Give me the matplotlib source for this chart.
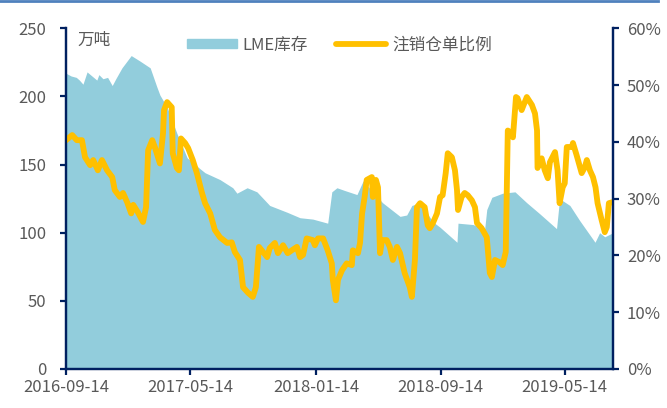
import pandas as pd
import matplotlib.pyplot as plt
import matplotlib.dates as mdates
from matplotlib.lines import Line2D
from matplotlib.patches import Patch
from matplotlib.ticker import FuncFormatter

plt.rcParams['font.family'] = ['Noto Sans CJK SC', 'DejaVu Sans']

# LME inventory (10k tonnes)
stock_dates = ["2016-09-14", "2016-09-24", "2016-10-04", "2016-10-10", "2016-10-17", "2016-10-25",
               "2016-11-13", "2016-11-17", "2016-11-25", "2016-12-04", "2016-12-13", "2016-12-20",
               "2017-01-01", "2017-01-19", "2017-02-05", "2017-02-25", "2017-03-10", "2017-03-16",
               "2017-03-30", "2017-04-18", "2017-05-08", "2017-06-02", "2017-06-12", "2017-07-11",
               "2017-08-05", "2017-08-13", "2017-09-02", "2017-09-21", "2017-10-16", "2017-11-19",
               "2017-12-14", "2018-01-08", "2018-02-06", "2018-02-14", "2018-02-24", "2018-03-11",
               "2018-04-04", "2018-04-16", "2018-05-24", "2018-06-27", "2018-07-10", "2018-07-20",
               "2018-08-05", "2018-08-30", "2018-09-13", "2018-10-16", "2018-10-18", "2018-11-16",
               "2018-12-09", "2018-12-13", "2018-12-23", "2019-01-13", "2019-02-06", "2019-03-01",
               "2019-03-26", "2019-04-28", "2019-05-04", "2019-05-24", "2019-06-12", "2019-07-12",
               "2019-07-21", "2019-07-31", "2019-08-16"]
stock = [217, 215, 214, 212, 209, 218,
         212, 216, 213, 214, 208, 213,
         221, 230, 226, 221, 207, 201,
         192, 173, 155, 147, 144, 139,
         133, 129, 133, 130, 120, 115,
         111, 110, 107, 130, 133, 131,
         128, 138, 122, 112, 113, 120,
         122, 108, 104, 93, 107, 106,
         103, 117, 126, 129, 130, 122,
         114, 103, 125, 120, 109, 93,
         100, 97, 100]

# cancelled warrants ratio (%)
ratio_dates = ["2016-09-14", "2016-09-26", "2016-10-05", "2016-10-15", "2016-10-21", "2016-10-31",
               "2016-11-06", "2016-11-15", "2016-11-23", "2016-12-03", "2016-12-13", "2016-12-18",
               "2016-12-28", "2017-01-03", "2017-01-11", "2017-01-19", "2017-01-23", "2017-02-01",
               "2017-02-11", "2017-02-17", "2017-02-21", "2017-03-01", "2017-03-06", "2017-03-16",
               "2017-03-22", "2017-03-24", "2017-03-30", "2017-04-08", "2017-04-10", "2017-04-18",
               "2017-04-22", "2017-04-26", "2017-05-04", "2017-05-10", "2017-05-19", "2017-05-27",
               "2017-06-06", "2017-06-12", "2017-06-22", "2017-07-01", "2017-07-11", "2017-07-25",
               "2017-08-03", "2017-08-09", "2017-08-19", "2017-08-25", "2017-09-04", "2017-09-13",
               "2017-09-19", "2017-09-25", "2017-10-03", "2017-10-11", "2017-10-16", "2017-10-26",
               "2017-11-01", "2017-11-11", "2017-11-20", "2017-11-28", "2017-12-08", "2017-12-14",
               "2017-12-20", "2017-12-27", "2018-01-08", "2018-01-12", "2018-01-18", "2018-01-28",
               "2018-02-06", "2018-02-14", "2018-02-16", "2018-02-22", "2018-02-26", "2018-03-06",
               "2018-03-15", "2018-03-25", "2018-03-27", "2018-04-06", "2018-04-10", "2018-04-14",
               "2018-04-19", "2018-04-23", "2018-05-03", "2018-05-05", "2018-05-11", "2018-05-15",
               "2018-05-19", "2018-05-23", "2018-06-01", "2018-06-07", "2018-06-13", "2018-06-21",
               "2018-06-27", "2018-07-06", "2018-07-16", "2018-07-20", "2018-07-26", "2018-07-30",
               "2018-08-05", "2018-08-14", "2018-08-20", "2018-08-24", "2018-08-30", "2018-09-07",
               "2018-09-13", "2018-09-18", "2018-09-24", "2018-09-28", "2018-10-06", "2018-10-12",
               "2018-10-16", "2018-10-18", "2018-10-25", "2018-10-31", "2018-11-06", "2018-11-14",
               "2018-11-20", "2018-11-24", "2018-12-03", "2018-12-13", "2018-12-19", "2018-12-23",
               "2018-12-29", "2019-01-07", "2019-01-13", "2019-01-19", "2019-01-23", "2019-01-31",
               "2019-02-02", "2019-02-08", "2019-02-11", "2019-02-19", "2019-03-01", "2019-03-11",
               "2019-03-17", "2019-03-21", "2019-03-22", "2019-03-30", "2019-04-05", "2019-04-11",
               "2019-04-15", "2019-04-25", "2019-04-30", "2019-05-04", "2019-05-10", "2019-05-14",
               "2019-05-18", "2019-05-28", "2019-05-30", "2019-06-06", "2019-06-10", "2019-06-16",
               "2019-06-22", "2019-06-26", "2019-07-02", "2019-07-08", "2019-07-13", "2019-07-17",
               "2019-07-25", "2019-07-31", "2019-08-04", "2019-08-08", "2019-08-16"]
ratio = [40.3, 41.2, 40.3, 40.3, 37.3, 35.9,
         36.8, 35.0, 36.8, 35.0, 33.8, 31.5,
         30.3, 31.0, 29.4, 27.4, 28.9, 27.6,
         25.9, 28.5, 38.5, 40.3, 39.1, 36.2,
         41.5, 45.6, 47.0, 46.1, 38.0, 35.4,
         35.0, 40.6, 39.8, 38.9, 36.8, 34.5,
         31.0, 29.2, 27.4, 24.5, 23.2, 22.2,
         22.3, 20.6, 19.2, 14.4, 13.4, 12.7,
         14.4, 21.5, 20.6, 19.7, 21.3, 22.2,
         20.4, 21.8, 20.4, 20.9, 21.5, 19.7,
         20.1, 23.0, 22.7, 21.8, 23.0, 23.0,
         20.9, 18.6, 15.7, 12.1, 15.7, 17.4,
         18.6, 18.3, 20.9, 20.4, 22.2, 27.4,
         30.3, 33.3, 33.8, 30.3, 33.3, 32.0,
         20.4, 22.7, 22.7, 21.5, 19.2, 21.5,
         20.4, 16.9, 14.4, 12.7, 19.2, 28.5,
         29.2, 28.5, 25.3, 24.8, 25.7, 27.4,
         30.3, 30.6, 34.5, 38.0, 37.3, 35.0,
         31.5, 28.0, 30.3, 31.0, 30.6, 29.7,
         28.5, 25.7, 24.8, 23.2, 16.9, 16.2,
         19.2, 18.8, 18.3, 20.6, 42.0, 41.5,
         40.8, 47.9, 47.7, 45.6, 47.9, 46.5,
         45.0, 42.0, 35.4, 37.1, 35.0, 33.6,
         36.4, 38.2, 35.0, 29.2, 32.0, 32.7,
         39.1, 39.1, 39.8, 37.7, 36.4, 34.5,
         35.5, 36.8, 35.0, 33.8, 32.0, 29.2,
         26.2, 24.1, 25.0, 29.2, 29.4]

tick_dates = ["2016-09-14", "2017-05-14", "2018-01-14", "2018-09-14", "2019-05-14"]

navy = '#002060'
grey = '#595959'
fs = 12

sd = pd.to_datetime(stock_dates)
rd = pd.to_datetime(ratio_dates)

fig = plt.figure(figsize=(6.67, 4.08), dpi=100)
ax = fig.add_axes([0.099, 0.0956, 0.82, 0.835])
ax2 = ax.twinx()

ax.fill_between(sd, stock, 0, color='#92CDDC', linewidth=0)
ax2.plot(rd, ratio, color='#FFC000', linewidth=4.2, solid_joinstyle='round')

ax.set_ylim(0, 250)
ax.set_yticks(range(0, 251, 50))
ax2.set_ylim(0, 60)
ax2.set_yticks(range(0, 61, 10))
ax2.yaxis.set_major_formatter(FuncFormatter(lambda v, p: f'{v:.0f}%'))

ax.set_xlim(sd[0], sd[-1])
ax.set_xticks(pd.to_datetime(tick_dates))
ax.xaxis.set_major_formatter(mdates.DateFormatter('%Y-%m-%d'))

for a in (ax, ax2):
    a.spines['top'].set_visible(False)
    for s in ('left', 'right', 'bottom'):
        a.spines[s].set_color(navy)
        a.spines[s].set_linewidth(1.6)
    a.tick_params(colors=navy, labelcolor=grey, labelsize=fs, width=1.6, length=4)
ax.tick_params(axis='x', pad=3)
ax.tick_params(axis='y', pad=10)
ax2.tick_params(axis='y', pad=6)

ax.text(0.02, 0.99, '万吨', transform=ax.transAxes, ha='left', va='top',
        fontsize=fs, color=grey)

handles = [Patch(color='#92CDDC'), Line2D([], [], color='#FFC000', linewidth=4.2, solid_capstyle='round')]
ax.legend(handles, ['LME库存', '注销仓单比例'], loc='upper center', bbox_to_anchor=(0.5, 1.02),
          ncol=2, frameon=False, fontsize=fs, labelcolor=grey, handlelength=3.0,
          handletextpad=0.35, columnspacing=1.7, handleheight=0.5)

# thin blue rule across the top
fig.add_artist(Line2D([0, 0.987], [0.998, 0.998], transform=fig.transFigure, color='#4F81BD', linewidth=2))

fig.savefig('out.png', dpi=100)
